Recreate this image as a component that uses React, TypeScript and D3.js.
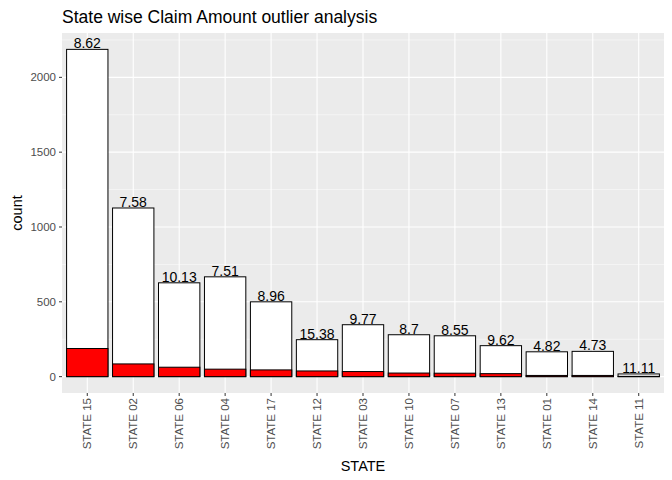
import * as d3 from "d3";
import { useEffect, useRef } from "react";

const states = ["STATE 15", "STATE 02", "STATE 06", "STATE 04", "STATE 17", "STATE 12", "STATE 03", "STATE 10", "STATE 07", "STATE 13", "STATE 01", "STATE 14", "STATE 11"];
const totals = [2187, 1127, 627, 667, 500, 247, 347, 280, 273, 207, 166, 169, 18];
const outliers = [188, 85, 63, 50, 45, 38, 34, 24, 23, 20, 8, 8, 2];
const pctLabels = ["8.62", "7.58", "10.13", "7.51", "8.96", "15.38", "9.77", "8.7", "8.55", "9.62", "4.82", "4.73", "11.11"];
const yTicks = [0, 500, 1000, 1500, 2000];

export default function App() {
  const ref = useRef<SVGSVGElement>(null);

  useEffect(() => {
    if (!ref.current) return;
    const svg = d3.select(ref.current);
    svg.selectAll("*").remove();
    const font = "Liberation Sans, Arial, sans-serif";
    const left = 62, right = 664, top = 33, bottom = 393;

    const x = d3.scaleBand().domain(states).range([left, right]).padding(0.1);
    const ymax = d3.max(totals)! * 1.05;
    const y = d3.scaleLinear().domain([-ymax * 0.0476, ymax]).range([bottom, top]);

    svg.append("rect").attr("x", left).attr("y", top).attr("width", right - left).attr("height", bottom - top).attr("fill", "#EBEBEB");

    const minor = d3.range(250, 2300, 500);
    svg.append("g").selectAll("line").data(minor).join("line")
      .attr("x1", left).attr("x2", right).attr("y1", (d) => y(d)).attr("y2", (d) => y(d))
      .attr("stroke", "#fff").attr("stroke-width", 0.5);
    svg.append("g").selectAll("line").data(yTicks).join("line")
      .attr("x1", left).attr("x2", right).attr("y1", (d) => y(d)).attr("y2", (d) => y(d))
      .attr("stroke", "#fff").attr("stroke-width", 1.1);
    svg.append("g").selectAll("line").data(states).join("line")
      .attr("x1", (d) => x(d)! + x.bandwidth() / 2).attr("x2", (d) => x(d)! + x.bandwidth() / 2)
      .attr("y1", top).attr("y2", bottom).attr("stroke", "#fff").attr("stroke-width", 1.1);

    const g = svg.append("g");
    g.selectAll("rect.t").data(states).join("rect")
      .attr("x", (d) => x(d)!).attr("width", x.bandwidth())
      .attr("y", (_, i) => y(totals[i])).attr("height", (_, i) => y(0) - y(totals[i]))
      .attr("fill", "#fff").attr("stroke", "#000").attr("stroke-width", 1);
    g.selectAll("rect.o").data(states).join("rect")
      .attr("x", (d) => x(d)!).attr("width", x.bandwidth())
      .attr("y", (_, i) => y(outliers[i])).attr("height", (_, i) => y(0) - y(outliers[i]))
      .attr("fill", "#FF0000").attr("stroke", "#000").attr("stroke-width", 1);
    g.selectAll("text").data(states).join("text")
      .attr("x", (d) => x(d)! + x.bandwidth() / 2).attr("y", (_, i) => y(totals[i]) - 1)
      .attr("text-anchor", "middle").attr("font-family", font).attr("font-size", 14).attr("fill", "#000")
      .text((_, i) => pctLabels[i]);

    const ya = svg.append("g");
    ya.selectAll("text").data(yTicks).join("text")
      .attr("x", left - 6).attr("y", (d) => y(d)).attr("dy", "0.35em").attr("text-anchor", "end")
      .attr("font-family", font).attr("font-size", 11.5).attr("fill", "#4D4D4D").text((d) => d);
    ya.selectAll("line").data(yTicks).join("line")
      .attr("x1", left - 3).attr("x2", left).attr("y1", (d) => y(d)).attr("y2", (d) => y(d)).attr("stroke", "#333");

    const xa = svg.append("g");
    xa.selectAll("line").data(states).join("line")
      .attr("x1", (d) => x(d)! + x.bandwidth() / 2).attr("x2", (d) => x(d)! + x.bandwidth() / 2)
      .attr("y1", bottom).attr("y2", bottom + 3).attr("stroke", "#333");
    xa.selectAll("text").data(states).join("text")
      .attr("transform", (d) => `translate(${x(d)! + x.bandwidth() / 2 + 4},${bottom + 5}) rotate(-90)`)
      .attr("text-anchor", "end").attr("font-family", font).attr("font-size", 11.5).attr("fill", "#4D4D4D")
      .text((d) => d);

    svg.append("text").attr("x", (left + right) / 2).attr("y", 471).attr("text-anchor", "middle")
      .attr("font-family", font).attr("font-size", 14.5).text("STATE");
    svg.append("text").attr("transform", `translate(22,${(top + bottom) / 2}) rotate(-90)`).attr("text-anchor", "middle")
      .attr("font-family", font).attr("font-size", 14.5).text("count");
    svg.append("text").attr("x", left).attr("y", 23).attr("font-family", font).attr("font-size", 17.5)
      .text("State wise Claim Amount outlier analysis");
  }, []);

  return <svg ref={ref} width={672} height={480} style={{ display: "block", margin: -8 }} />;
}
